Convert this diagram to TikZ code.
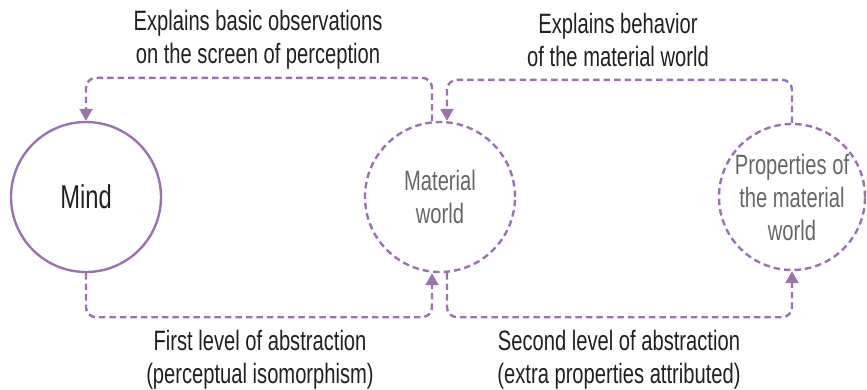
\documentclass[tikz,border=0pt]{standalone}
\usepackage{fontspec}
\setmainfont[FakeStretch=0.72]{Liberation Sans}
\usetikzlibrary{positioning, arrows.meta}
\definecolor{lilac}{HTML}{9A72B0}
\definecolor{ink}{HTML}{231F20}
\definecolor{greyink}{HTML}{666666}
\tikzset{
    ring/.style={circle, minimum size=150pt, inner sep=0pt, align=center},
    link/.style={lilac, line width=2.4pt, dash pattern=on 6.5pt off 4pt, rounded corners=10pt,
        -{Triangle[width=13pt,length=12pt]}},
    caption/.style={ink, align=center, font=\fontsize{28}{33}\selectfont}
}
\begin{document}
\begin{tikzpicture}[x=1pt, y=-1pt]
    \useasboundingbox (0, 0) rectangle (867, 389);
    \node[ring, draw=lilac, line width=2.4pt, font=\fontsize{33}{33}\selectfont, text=ink] (mind) at (86, 197) {Mind};
    \node[ring, draw=lilac, line width=2.4pt, dash pattern=on 6.5pt off 4pt, text=greyink, font=\fontsize{28}{33}\selectfont] (matter) at (440, 197) {Material\\world};
    \node[ring, draw=lilac, line width=2.4pt, dash pattern=on 6.5pt off 4pt, text=greyink, font=\fontsize{28}{33}\selectfont, minimum size=146pt] (props) at (792, 197) {Properties of\\the material\\world};
    % upper loops
    \draw[link] ([xshift=-8pt]matter.north) -- ++(0, -43) -| (mind.north);
    \draw[link] (props.north) -- ++(0, -43) -| ([xshift=7pt]matter.north);
    % lower loops
    \draw[link] (mind.south) -- ++(0, 44) -| ([xshift=-8pt]matter.south);
    \draw[link] ([xshift=7pt]matter.south) -- ++(0, 44) -| (props.south);
    \node[caption] (obs) at (258, 40) {Explains basic observations\\on the screen of perception};
    \node[caption] (beh) at (618, 40) {Explains behavior\\of the material world};
    \node[caption] (first) at (260, 360) {First level of abstraction\\(perceptual isomorphism)};
    \node[caption] (second) at (619, 360) {Second level of abstraction\\(extra properties attributed)};
\end{tikzpicture}
\end{document}
